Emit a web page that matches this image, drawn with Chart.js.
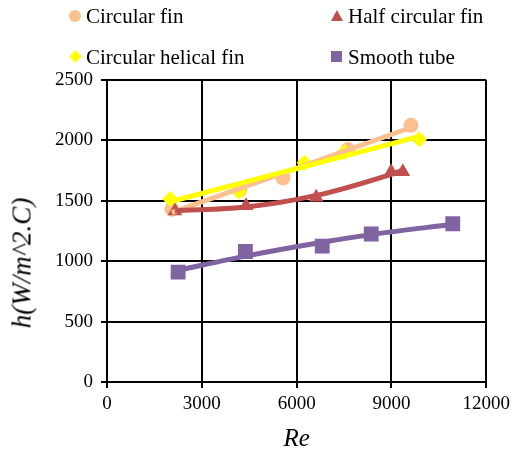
<!DOCTYPE html>
<html>
<head>
<meta charset="utf-8">
<script src="https://cdn.jsdelivr.net/npm/chart.js@4"></script>
<style>
  body { margin: 0; background: #fff; }
  #wrap { position: relative; width: 515px; height: 456px; font-family: 'Liberation Serif', 'Times New Roman', serif; }
  #grafico { position: absolute; left: 0; top: 0; }
  .item { position: absolute; font-size: 21px; line-height: 21px; color: #000; white-space: nowrap; }
  .mk { position: absolute; }
  #ytitle { position: absolute; left: 22px; top: 263px; font-size: 27px; font-style: italic;
            transform: translate(-50%, -50%) rotate(-90deg); white-space: nowrap; }
</style>
</head>
<body>
<div id="wrap">
  <canvas id="grafico" width="515" height="456"></canvas>
  <div class="mk" style="left:69px;top:10px;width:12px;height:12px;border-radius:50%;background:#FAC090"></div>
  <div class="item" style="left:86px;top:6px">Circular fin</div>
  <div class="mk" style="left:331px;top:10px;width:0;height:0;border-left:6px solid transparent;border-right:6px solid transparent;border-bottom:11px solid #C0504D"></div>
  <div class="item" style="left:348px;top:6px">Half circular fin</div>
  <div class="mk" style="left:71px;top:52px;width:9px;height:9px;background:#FFFF00;transform:rotate(45deg)"></div>
  <div class="item" style="left:86px;top:47px">Circular helical fin</div>
  <div class="mk" style="left:331px;top:51px;width:11px;height:11px;background:#8064A2"></div>
  <div class="item" style="left:348px;top:47px">Smooth tube</div>
  <div id="ytitle">h(W/m^2.C)</div>
</div>
<script>
// datos
const reCircular = [2050, 4200, 5570, 7620, 9620];
const hCircular = [1430, 1590, 1690, 1925, 2125];
const reHalf = [2150, 4400, 6620, 8990, 9360];
const hHalf = [1415, 1460, 1530, 1740, 1740];
const reHelical = [2000, 4180, 6250, 7510, 9880];
const hHelical = [1515, 1575, 1815, 1905, 2010];
const reSmooth = [2250, 4380, 6810, 8360, 10940];
const hSmooth = [910, 1080, 1125, 1225, 1310];

const xTicks = [0, 3000, 6000, 9000, 12000];
const yTicks = [0, 500, 1000, 1500, 2000, 2500];

function puntos(xs, ys) {
    return xs.map((x, i) => ({ x: x, y: ys[i] }));
}

// linea de tendencia (minimos cuadrados) evaluada en las mismas x
function tendencia(xs, ys, grado) {
    const n = grado + 1;
    const A = [];
    for (let r = 0; r < n; r++) {
        A.push([]);
        for (let c = 0; c <= n; c++) A[r].push(0);
    }
    xs.forEach((xv, i) => {
        const x = xv / 1000;
        for (let r = 0; r < n; r++) {
            for (let c = 0; c < n; c++) A[r][c] += Math.pow(x, r + c);
            A[r][n] += ys[i] * Math.pow(x, r);
        }
    });
    for (let k = 0; k < n; k++) {
        for (let r = k + 1; r < n; r++) {
            const f = A[r][k] / A[k][k];
            for (let c = k; c <= n; c++) A[r][c] -= f * A[k][c];
        }
    }
    const coef = new Array(n).fill(0);
    for (let r = n - 1; r >= 0; r--) {
        let s = A[r][n];
        for (let c = r + 1; c < n; c++) s -= A[r][c] * coef[c];
        coef[r] = s / A[r][r];
    }
    return xs.map(xv => {
        const x = xv / 1000;
        let y = 0;
        for (let r = 0; r < n; r++) y += coef[r] * Math.pow(x, r);
        return { x: xv, y: y };
    });
}

function serieMarcas(label, xs, ys, color, estilo, radio, orden) {
    return {
        label: label, data: puntos(xs, ys), showLine: false,
        pointStyle: estilo, pointRadius: radio, pointHoverRadius: radio,
        backgroundColor: color, borderColor: color, borderWidth: 0, order: orden
    };
}

function serieLinea(xs, ys, grado, color, orden) {
    return {
        label: '', data: tendencia(xs, ys, grado), showLine: true, pointRadius: 0,
        borderColor: color, borderWidth: 5, cubicInterpolationMode: 'monotone', order: orden
    };
}

const fuente = { family: "'Liberation Serif', 'Times New Roman', serif", size: 19 };

const ctx = document.getElementById('grafico').getContext('2d');
const myChart = new Chart(ctx, {
    type: 'scatter',
    data: {
        datasets: [
            serieMarcas('Circular fin', reCircular, hCircular, '#FAC090', 'circle', 7.5, 8),
            serieMarcas('Half circular fin', reHalf, hHalf, '#C0504D', 'triangle', 8.5, 7),
            serieMarcas('Circular helical fin', reHelical, hHelical, '#FFFF00', 'rectRot', 8, 6),
            serieMarcas('Smooth tube', reSmooth, hSmooth, '#8064A2', 'rect', 10.5, 5),
            serieLinea(reCircular, hCircular, 1, '#FAC090', 4),
            serieLinea(reHalf, hHalf, 2, '#C0504D', 3),
            serieLinea(reHelical, hHelical, 1, '#FFFF00', 2),
            serieLinea(reSmooth, hSmooth, 2, '#8064A2', 1)
        ]
    },
    options: {
        responsive: false,
        animation: false,
        layout: { padding: { left: 0, top: 80, right: 28, bottom: 0 } },
        plugins: { legend: { display: false }, tooltip: { enabled: false } },
        scales: {
            x: {
                type: 'linear', min: 0, max: 12000,
                afterBuildTicks: s => { s.ticks = xTicks.map(v => ({ value: v })); },
                afterFit: s => { s.height = 74; },
                ticks: { color: '#000', font: fuente, padding: 5, callback: v => String(v) },
                grid: { color: '#000', lineWidth: 2, tickLength: 6 },
                border: { color: '#000', width: 2 },
                title: { display: true, text: 'Re', color: '#000', padding: { top: 0, bottom: 4 },
                         font: { family: fuente.family, size: 25, style: 'italic', lineHeight: 1 } }
            },
            y: {
                type: 'linear', min: 0, max: 2500,
                afterBuildTicks: s => { s.ticks = yTicks.map(v => ({ value: v })); },
                afterFit: s => { s.width = 107; },
                ticks: { color: '#000', font: fuente, padding: 8, callback: v => String(v) },
                grid: { color: '#000', lineWidth: 2, tickLength: 6 },
                border: { color: '#000', width: 2 }
            }
        }
    }
});
</script>
</body>
</html>
